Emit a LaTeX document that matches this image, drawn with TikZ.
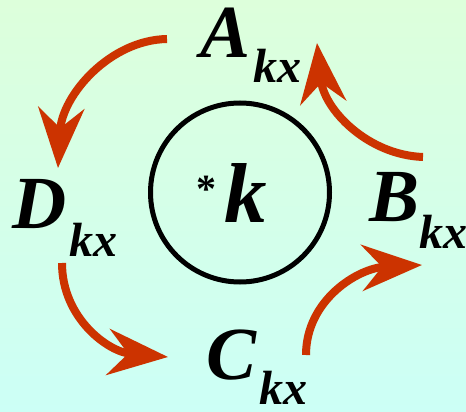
\documentclass[tikz,border=0pt]{standalone}
\usepackage{fontspec}
\setmainfont{Liberation Serif}
\usetikzlibrary{arrows.meta}
\definecolor{cyclered}{HTML}{CC3300}
\definecolor{bgtop}{HTML}{DDFFDB}
\definecolor{bgbottom}{HTML}{CCFFF6}
\newcommand{\kxsub}[3]{#1\kern#3pt\raisebox{-#2pt}{\fontsize{48}{48}\selectfont kx}}

\begin{document}
\begin{tikzpicture}[x=1pt,y=-1pt,
    cyclelabel/.style={anchor=base west,inner sep=0pt,
      font=\fontsize{75}{75}\selectfont\bfseries\itshape},
    cyclearrow/.style={cyclered,line width=8pt,
      -{Stealth[length=60pt,width=46pt,inset=20pt]}}]
  \shade[top color=bgtop,bottom color=bgbottom] (0,0) rectangle (466,412);
  \useasboundingbox (0,0) rectangle (466,412);
  % lattice site
  \node[draw,circle,line width=5pt,minimum size=179pt,inner sep=0pt] (site) at (240,192.5) {};
  \node[anchor=base west,inner sep=0pt,font=\fontsize{85}{85}\selectfont\bfseries\itshape]
        (kstar) at (196,222) {\raisebox{20pt}{\fontsize{40}{40}\selectfont\upshape *}\kern8pt k};
  % labels
  \node[cyclelabel] (A) at (200,58)  {\kxsub{A}{25}{3}};
  \node[cyclelabel] (B) at (369,221) {\kxsub{B}{27}{0}};
  \node[cyclelabel] (C) at (206,379) {\kxsub{C}{25}{3}};
  \node[cyclelabel] (D) at (12,228)  {\kxsub{D}{28}{3}};
  % arrow ends
  \coordinate (a0) at (167,39);  \coordinate (d1) at (58,168);
  \coordinate (b0) at (423,157); \coordinate (a1) at (317,43);
  \coordinate (c0) at (306,355); \coordinate (b1) at (422,265);
  \coordinate (d0) at (62,263);  \coordinate (c1) at (168,357);
  \draw[cyclearrow] (a0) .. controls (110,40) and (62,95) .. (d1);
  \draw[cyclearrow] (b0) .. controls (368,155) and (324,110) .. (a1);
  \draw[cyclearrow] (c0) .. controls (306,300) and (358,268) .. (b1);
  \draw[cyclearrow] (d0) .. controls (62,318) and (108,352) .. (c1);
\end{tikzpicture}
\end{document}
